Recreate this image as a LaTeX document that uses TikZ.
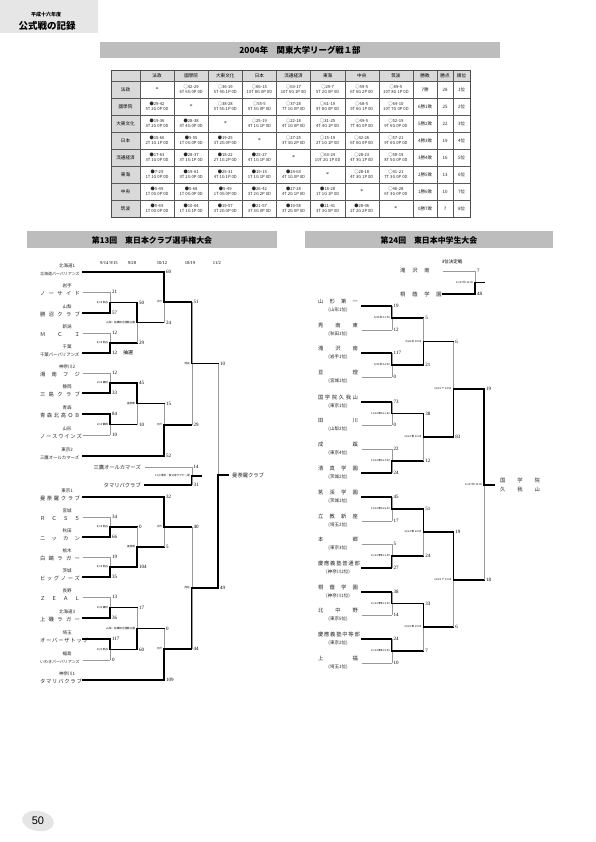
\documentclass[tikz,border=0pt]{standalone}
\usepackage{fontspec}
\setmainfont{Liberation Serif}
\setsansfont{Liberation Sans}
\newfontfamily\jp{Noto Sans CJK JP}
\newcommand\fs[1]{\fontsize{#1}{#1}\selectfont}
\definecolor{barg}{HTML}{BDBDBD}
\definecolor{hdrg}{HTML}{D9D9D9}
\definecolor{cellg}{HTML}{E6E6E6}
\newcount\scn
\newcommand\lteam[6]{%
  \node[pref] (#1p) at (67,#2-6) {#3};
  \node[tnm] (#1) at (60,#2+1.5) {\makebox[40pt][s]{#4}};
  \coordinate (#1a) at (82.7,#2);
  \coordinate (#1b) at (#5,#2);
  \draw[#6] (#1a) -- (#1b);
}
\newcommand\rteam[5]{%
  \node[tnm] (#1) at (338,#2-4.5) {\makebox[40pt][s]{#3}};
  \node[pref] (#1p) at (338,#2+4) {#4};
  \coordinate (#1a) at (361.7,#2);
  \coordinate (#1b) at (391.7,#2);
  \draw[#5] (#1a) -- (#1b);
}
\newcommand\mt[8]{%
  \coordinate (#1t) at (#2,#3);
  \coordinate (#1u) at (#2,#4);
  \coordinate (#1w) at (#2,#5);
  \coordinate (#1o) at (#2,#6);
  \coordinate (#1x) at (#7,#6);
  \draw[thinl] (#1t) -- (#1u);
  \draw[thickl] (#1w) -- (#1o) -- (#1x);
  \node[venue] (#1v) at (#2-1.5,#6) {#8};
}
\newcommand\scorenum[3]{\global\advance\scn by 1
  \node[scr] (s\the\scn) at (#1+1.5,#2) {#3};}
\newcommand\trow[2]{%
  \foreach \c/\a/\b in {#2}
    \node[cell] (c#1-\c) at ({140+34.125*(\c-0.5)},{81+17*(#1-0.5)}) {\a\\[1.2pt]\b};}
\begin{document}
\begin{tikzpicture}[x=1pt,y=-1pt,
  thinl/.style={draw=black!40, line width=0.4pt},
  thickl/.style={draw=black, line width=1.1pt, line cap=rect},
  scr/.style={anchor=west, inner sep=0.3pt, font=\fs{5}},
  venue/.style={anchor=east, inner sep=0.3pt, font=\jp\fs{2.6}},
  pref/.style={inner sep=0pt, font=\jp\fs{4.5}, text=black!85},
  tnm/.style={inner sep=0pt, font=\jp\fs{5.3}, text=black!85},
  cell/.style={inner sep=0pt, align=center, font=\jp\fs{4.2}, text=black!85},
  hcell/.style={inner sep=0pt, align=center, font=\jp\fs{4.6}},
  datel/.style={font=\fs{4.6}},
  bartext/.style={font=\jp\bfseries\fs{7.9}}]
\useasboundingbox (0,0) rectangle (595,842);
\fill[white] (0,0) rectangle (595,842);

% page header
\fill[cellg] (0,0) rectangle (98,33);
\node[font=\jp\bfseries\fs{5}] (hd1) at (46,15) {平成十六年度};
\node[font=\jp\bfseries\fs{9.5}] (hd2) at (47,25.5) {公式戦の記録};

% league title
\fill[barg] (100,42) rectangle (500,58);
\node[bartext, font=\jp\bfseries\fs{8.4}] (lt) at (300,50) {2004年\quad 関東大学リーグ戦１部};

% table
\fill[hdrg] (111,70) rectangle (470,81);
\fill[hdrg] (111,81) rectangle (140,217);
\foreach \yy in {81,98,...,200} \draw[black!65, line width=0.4pt] (111,\yy) -- (470,\yy);
\foreach \xx in {140,174.125,208.25,242.375,276.5,310.625,344.75,378.875,413,437,453}
  \draw[black!65, line width=0.4pt] (\xx,70) -- (\xx,217);
\draw[black!70, line width=0.6pt] (111,70) rectangle (470,217);
\foreach \n [count=\i] in {法政,國學院,大東文化,日本,流通経済,東海,中央,筑波}{
  \node[hcell] (ch\i) at ({140+34.125*(\i-0.5)},75.5) {\n};
  \node[hcell] (rh\i) at (125.5,{81+17*(\i-0.5)}) {\n};
  \node[cell,font=\fs{6}] (dg\i) at ({140+34.125*(\i-0.5)},{81+17*(\i-0.5)}) {*};
}
\node[hcell] (chw) at (425,75.5) {勝敗};
\node[hcell] (chp) at (445,75.5) {勝点};
\node[hcell] (chr) at (461.5,75.5) {順位};
\foreach \w/\p/\r [count=\i] in {7勝/28/1位,6勝1敗/25/2位,5勝2敗/22/3位,4勝3敗/19/4位,3勝4敗/16/5位,2勝5敗/13/6位,1勝6敗/10/7位,0勝7敗/7/8位}{
  \node[cell,font=\jp\fs{4.5}] (w\i) at (425,{81+17*(\i-0.5)}) {\w};
  \node[cell,font=\jp\fs{4.5}] (p\i) at (445,{81+17*(\i-0.5)}) {\p};
  \node[cell,font=\jp\fs{4.5}] (r\i) at (461.5,{81+17*(\i-0.5)}) {\r};
}
\trow{1}{2/○42-29/6T 6G 0P 0D,3/○36-19/5T 4G 1P 0D,4/○66-15/10T 8G 0P 0D,5/○63-17/10T 5G 1P 0D,6/○29-7/5T 2G 0P 0D,7/○49-5/6T 6G 2P 0D,8/○69-5/10T 8G 1P 0D}
\trow{2}{1/●29-42/5T 2G 0P 0D,3/○38-28/5T 5G 1P 0D,4/○55-5/9T 5G 0P 0D,5/○37-28/7T 1G 0P 0D,6/○61-19/9T 8G 0P 0D,7/○68-5/9T 6G 1P 0D,8/○64-10/10T 7G 0P 0D}
\trow{3}{1/●19-36/3T 2G 0P 0D,2/●28-38/4T 4G 0P 0D,4/○25-19/4T 1G 1P 0D,5/○22-18/4T 1G 0P 0D,6/○31-25/4T 4G 1P 0D,7/○49-5/7T 4G 0P 0D,8/○52-19/9T 6G 0P 0D}
\trow{4}{1/●15-66/2T 1G 1P 0D,2/●5-55/1T 0G 0P 0D,3/●19-25/3T 2G 0P 0D,5/○27-25/3T 3G 2P 0D,6/○15-19/2T 1G 1P 0D,7/○42-26/6T 6G 0P 0D,8/○57-21/9T 6G 0P 0D}
\trow{5}{1/●17-63/3T 1G 0P 0D,2/●28-37/3T 1G 1P 0D,3/●18-22/2T 1G 2P 0D,4/●25-27/4T 1G 1P 0D,6/○63-24/10T 2G 1P 0D,7/○28-23/4T 3G 1P 0D,8/○58-19/8T 5G 0P 0D}
\trow{6}{1/●7-29/1T 1G 0P 0D,2/●19-61/3T 2G 0P 0D,3/●25-31/4T 1G 1P 0D,4/●19-15/1T 1G 1P 0D,5/●24-63/4T 1G 0P 0D,7/○28-18/4T 3G 1P 0D,8/○41-21/7T 3G 0P 0D}
\trow{7}{1/●5-49/1T 0G 0P 0D,2/●5-68/1T 0G 0P 0D,3/●5-49/1T 0G 0P 0D,4/●26-42/3T 2G 2P 0D,5/●27-28/4T 2G 1P 0D,6/●18-28/1T 1G 1P 0D,8/○46-28/6T 3G 0P 0D}
\trow{8}{1/●5-69/1T 0G 0P 0D,2/●10-64/1T 1G 1P 0D,3/●19-57/3T 2G 0P 0D,4/●21-57/3T 3G 0P 0D,5/●19-58/3T 2G 0P 0D,6/●21-41/3T 3G 0P 0D,7/●28-46/2T 2G 2P 0D}

% section bars
\fill[barg] (27,231) rectangle (277,248);
\node[bartext] (sl) at (152,240) {第13回\quad 東日本クラブ選手権大会};
\fill[barg] (305,231) rectangle (553,248);
\node[bartext] (sr) at (429,240) {第24回\quad 東日本中学生大会};

% ===== left bracket =====
\node[datel] (dt1) at (109,263) {9/14\ 9/15};
\node[datel] (dt2) at (132,263) {9/28};
\node[datel] (dt3) at (162,263) {10/12};
\node[datel] (dt4) at (190,263) {10/19};
\node[datel] (dt5) at (217,263) {11/2};

\lteam{L1}{272}{北海道1}{\fs{4}北海道バーバリアンズ}{164}{thickl}
\lteam{L2}{292}{岩手}{ノ ー サ イ ド}{110}{thinl}
\lteam{L3}{313}{山梨}{勝 沼 ク ラ ブ}{110}{thickl}
\lteam{L4}{333}{新潟}{Ｍ Ｃ Ｉ}{110}{thinl}
\lteam{L5}{353}{千葉}{\fs{4.4}千葉バーバリアンズ}{110}{thickl}
\lteam{L6}{373}{神奈川2}{湘 南 フ ジ}{110}{thinl}
\lteam{L7}{393}{静岡}{三 島 ク ラ ブ}{110}{thickl}
\lteam{L8}{414}{青森}{青 森 北 高 Ｏ Ｂ}{110}{thickl}
\lteam{L9}{435}{山形}{ノ ー ス ウ イ ン ズ}{110}{thinl}
\lteam{L10}{456}{東京2}{\fs{4.4}三鷹オールカマーズ}{164}{thickl}
\lteam{L11}{497}{東京1}{曼 荼 羅 ク ラ ブ}{164}{thickl}
\lteam{L12}{517}{宮城}{Ｒ Ｃ Ｓ ５}{110}{thinl}
\lteam{L13}{537}{秋田}{ニ ッ カ ン}{110}{thickl}
\lteam{L14}{557}{栃木}{白 鷗 ラ ガ ー}{110}{thinl}
\lteam{L15}{577}{茨城}{ビ ッ グ ノ ー ズ}{110}{thickl}
\lteam{L16}{597}{長野}{Ｚ Ｅ Ａ Ｌ}{110}{thinl}
\lteam{L17}{618}{北海道3}{上 磯 ラ ガ ー}{110}{thickl}
\lteam{L18}{639}{埼玉}{オ ー バ ー ザ ト ッ プ}{110}{thickl}
\lteam{L19}{660}{福島}{\fs{4}いわきバーバリアンズ}{110}{thinl}
\lteam{L20}{680}{神奈川1}{タ マ リ バ ク ラ ブ}{164}{thickl}

\mt{A1}{110}{292}{313}{313}{302.5}{137}{9/15 熊谷}
\mt{A2}{110}{333}{353}{353}{343}{137}{9/15 熊谷}
\mt{A3}{110}{373}{393}{393}{383}{137}{10/4 藤枝}
\mt{A4}{110}{414}{435}{414}{424.5}{137}{10/3 鶴岡}
\mt{A5}{110}{517}{537}{537}{527}{137}{9/15 熊谷}
\mt{A6}{110}{557}{577}{577}{567}{137}{9/15 熊谷}
\mt{A7}{110}{597}{618}{618}{607.5}{137}{10/4 藤枝}
\mt{A8}{110}{639}{660}{639}{649.5}{137}{10/3 熊谷}
\mt{B1}{137}{302.5}{343}{302.5}{322.5}{164}{山梨・前橋総合運動公園}
\mt{B2}{137}{383}{424.5}{383}{403.5}{164}{盛岡南}
\mt{B3}{137}{527}{567}{567}{547}{164}{盛岡南}
\mt{B4}{137}{607.5}{649.5}{649.5}{628.5}{164}{山梨・前橋総合運動公園}
\mt{C1}{164}{272}{322.5}{272}{302}{191.7}{水戸}
\mt{C2}{164}{403.5}{456}{456}{425}{191.7}{水戸}
\mt{C3}{164}{497}{547}{497}{527}{191.7}{水戸}
\mt{C4}{164}{628.5}{680}{680}{649}{191.7}{水戸}
\mt{D1}{191.7}{302}{425}{302}{363.5}{218}{熊谷}
\mt{D2}{191.7}{527}{649}{649}{588}{218}{熊谷}
\mt{E1}{218}{363.5}{588}{588}{475}{228}{}
\node[tnm, anchor=west] (champL) at (232,475) {曼荼羅クラブ};

% extra match
\node[tnm, anchor=east] (X1n) at (141,467) {三鷹オールカマーズ};
\node[tnm, anchor=east] (X2n) at (141,485) {タマリバクラブ};
\coordinate (X1a) at (145,467); \coordinate (X1b) at (191.7,467);
\coordinate (X2a) at (145,485); \coordinate (X2b) at (191.7,485);
\draw[thinl] (X1a) -- (X1b);
\draw[thickl] (X2a) -- (X2b);
\mt{X}{191.7}{467}{485}{485}{476}{201.7}{11/3 東京・秩父宮ラグビー場}
\scorenum{191.7}{467}{14}
\scorenum{191.7}{485}{31}

% left scores
\scorenum{110}{292}{21} \scorenum{110}{313}{57}
\scorenum{110}{333}{12} \scorenum{110}{353}{12\hspace{6pt}{\jp 抽選}}
\scorenum{110}{373}{12} \scorenum{110}{393}{33}
\scorenum{110}{414}{84} \scorenum{110}{435}{10}
\scorenum{110}{517}{34} \scorenum{110}{537}{66}
\scorenum{110}{557}{19} \scorenum{110}{577}{35}
\scorenum{110}{597}{13} \scorenum{110}{618}{36}
\scorenum{110}{639}{117} \scorenum{110}{660}{0}
\scorenum{137}{302.5}{50} \scorenum{137}{343}{29}
\scorenum{137}{383}{45} \scorenum{137}{424.5}{10}
\scorenum{137}{527}{0} \scorenum{137}{567}{104}
\scorenum{137}{607.5}{17} \scorenum{137}{649.5}{60}
\scorenum{164}{272}{60} \scorenum{164}{322.5}{24}
\scorenum{164}{403.5}{15} \scorenum{164}{456}{52}
\scorenum{164}{497}{32} \scorenum{164}{547}{5}
\scorenum{164}{628.5}{0} \scorenum{164}{680}{109}
\scorenum{191.7}{302}{51} \scorenum{191.7}{425}{29}
\scorenum{191.7}{527}{40} \scorenum{191.7}{649}{44}
\scorenum{218}{363.5}{10} \scorenum{218}{588}{49}

% ===== right bracket =====
\node[font=\jp\fs{4.5}] (third) at (452,262) {3位決定戦};
\node[tnm, anchor=west] (T1) at (400,270.7) {\makebox[29.5pt][s]{滝 沢 南}};
\node[tnm, anchor=west] (T2) at (400,294) {\makebox[41.5pt][s]{桐 蔭 学 園}};
\coordinate (T1a) at (443,270.7); \coordinate (T1b) at (475,270.7);
\coordinate (T2a) at (443,294); \coordinate (T2b) at (475,294);
\draw[thinl] (T1a) -- (T1b);
\draw[thickl] (T2a) -- (T2b);
\mt{T}{475}{270.7}{294}{294}{282.3}{484}{11/27 秋 11:00}
\scorenum{475}{270.7}{7} \scorenum{475}{294}{48}

\rteam{R1}{306}{山 形 第 一}{(山形1位)}{thickl}
\rteam{R2}{330}{秀 南 東}{(秋田1位)}{thinl}
\rteam{R3}{353}{滝 沢 南}{(岩手1位)}{thickl}
\rteam{R4}{377}{亘 理}{(宮城1位)}{thinl}
\rteam{R5}{402}{国 学 院 久 我 山}{(東京1位)}{thickl}
\rteam{R6}{425}{田 川}{(山梨2位)}{thinl}
\rteam{R7}{449}{成 蹊}{(東京4位)}{thinl}
\rteam{R8}{473}{清 真 学 園}{(茨城2位)}{thickl}
\rteam{R9}{497}{茗 渓 学 園}{(茨城1位)}{thickl}
\rteam{R10}{521}{立 教 新 座}{(埼玉2位)}{thinl}
\rteam{R11}{544}{本 郷}{(東京3位)}{thinl}
\rteam{R12}{568}{慶 應 義 塾 普 通 部}{(神奈川2位)}{thickl}
\rteam{R13}{592}{桐 蔭 学 園}{(神奈川1位)}{thickl}
\rteam{R14}{615}{北 中 野}{(東京5位)}{thinl}
\rteam{R15}{639}{慶 應 義 塾 中 等 部}{(東京2位)}{thickl}
\rteam{R16}{663}{上 福}{(埼玉1位)}{thinl}

\mt{P1}{391.7}{306}{330}{306}{318}{423.3}{9/25 秋 11:00}
\mt{P2}{391.7}{353}{377}{353}{365}{423.3}{9/25 秋 14:00}
\mt{P3}{391.7}{402}{425}{402}{413.5}{423.3}{11/14 東A 11:00}
\mt{P4}{391.7}{449}{473}{473}{461}{423.3}{11/14 東A 13:00}
\mt{P5}{391.7}{497}{521}{497}{509}{423.3}{11/14 東A 15:00}
\mt{P6}{391.7}{544}{568}{568}{556}{423.3}{11/14 東B 11:00}
\mt{P7}{391.7}{592}{615}{592}{603.5}{423.3}{11/14 東B 13:00}
\mt{P8}{391.7}{639}{663}{639}{651}{423.3}{11/14 東B 15:00}
\mt{Q1}{423.3}{318}{365}{365}{341.5}{453.3}{9/26 秋 10:00}
\mt{Q2}{423.3}{413.5}{461}{413.5}{437}{453.3}{11/21 東 11:00}
\mt{Q3}{423.3}{509}{556}{509}{532}{453.3}{11/21 東 12:00}
\mt{Q4}{423.3}{603.5}{651}{603.5}{627}{453.3}{11/21 東 12:00}
\mt{S1}{453.3}{341.5}{437}{437}{389}{484}{11/23 ア 13:00}
\mt{S2}{453.3}{532}{627}{532}{580}{484}{11/23 ア 11:00}
\mt{F1}{484}{389}{580}{389}{485}{494}{11/27 秋 13:00}
\node[tnm] (champR1) at (520,480) {\makebox[40pt][s]{国 学 院}};
\node[tnm] (champR2) at (520,489) {\makebox[40pt][s]{久 我 山}};

\scorenum{391.7}{306}{19} \scorenum{391.7}{330}{12}
\scorenum{391.7}{353}{117} \scorenum{391.7}{377}{0}
\scorenum{391.7}{402}{73} \scorenum{391.7}{425}{0}
\scorenum{391.7}{449}{22} \scorenum{391.7}{473}{24}
\scorenum{391.7}{497}{45} \scorenum{391.7}{521}{17}
\scorenum{391.7}{544}{5} \scorenum{391.7}{568}{27}
\scorenum{391.7}{592}{38} \scorenum{391.7}{615}{14}
\scorenum{391.7}{639}{24} \scorenum{391.7}{663}{10}
\scorenum{423.3}{318}{5} \scorenum{423.3}{365}{21}
\scorenum{423.3}{413.5}{38} \scorenum{423.3}{461}{12}
\scorenum{423.3}{509}{51} \scorenum{423.3}{556}{24}
\scorenum{423.3}{603.5}{33} \scorenum{423.3}{651}{7}
\scorenum{453.3}{341.5}{6} \scorenum{453.3}{437}{83}
\scorenum{453.3}{532}{19} \scorenum{453.3}{627}{6}
\scorenum{484}{389}{19} \scorenum{484}{580}{18}

% page number
\fill[black!10, rotate around={-10:(38,821)}] (38,821) ellipse (16 and 10);
\node[font=\sffamily\fs{11}] (pg) at (38,821) {50};
\end{tikzpicture}
\end{document}
